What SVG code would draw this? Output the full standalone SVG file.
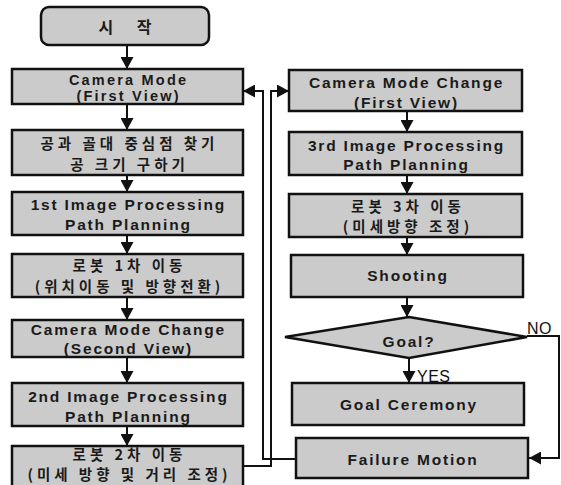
<svg xmlns="http://www.w3.org/2000/svg" width="561" height="485" viewBox="0 0 561 485">
<style>
.box{fill:#cbcbcb;stroke:#111;stroke-width:2.5}
.t{font-family:"Liberation Sans","Noto Sans CJK KR",sans-serif;font-size:15.5px;font-weight:bold;fill:#1a1a1a;text-anchor:middle;letter-spacing:1.8px}
.s{font-size:14.5px;letter-spacing:2.2px}
.k{font-family:"Noto Sans CJK KR","Liberation Sans",sans-serif;font-size:14.5px;fill:#1a1a1a;text-anchor:middle;letter-spacing:4px;font-weight:bold}
.lbl{font-family:"Liberation Sans",sans-serif;font-size:16px;fill:#111;letter-spacing:0.5px}
.c{fill:none;stroke:#111;stroke-width:2}
</style>
<defs>
<marker id="ah" markerUnits="userSpaceOnUse" markerWidth="13" markerHeight="13" refX="12" refY="6.5" orient="auto">
<path d="M0,0 L12,6.5 L0,13 z" fill="#111"/>
</marker>
</defs>
<rect width="561" height="485" fill="#fff"/>

<g id="connectors">
<line class="c" x1="127" y1="45" x2="127" y2="69" marker-end="url(#ah)"/>
<line class="c" x1="127" y1="104" x2="127" y2="130" marker-end="url(#ah)"/>
<line class="c" x1="127" y1="175" x2="127" y2="192" marker-end="url(#ah)"/>
<line class="c" x1="127" y1="235" x2="127" y2="254" marker-end="url(#ah)"/>
<line class="c" x1="127" y1="297" x2="127" y2="320" marker-end="url(#ah)"/>
<line class="c" x1="127" y1="357" x2="127" y2="383" marker-end="url(#ah)"/>
<line class="c" x1="127" y1="426" x2="127" y2="446" marker-end="url(#ah)"/>
<line class="c" x1="407" y1="111" x2="407" y2="132" marker-end="url(#ah)"/>
<line class="c" x1="407" y1="175" x2="407" y2="194" marker-end="url(#ah)"/>
<line class="c" x1="407" y1="237" x2="407" y2="255" marker-end="url(#ah)"/>
<line class="c" x1="407" y1="297" x2="407" y2="317" marker-end="url(#ah)"/>
<line class="c" x1="409" y1="358" x2="409" y2="383" marker-end="url(#ah)"/>
<path class="c" d="M527,336 H559 V458 H529" marker-end="url(#ah)"/>
<path class="c" d="M296,459 H263 V91 H243" marker-end="url(#ah)"/>
<path class="c" d="M243,466 H271 V91 H289" marker-end="url(#ah)"/>
</g>

<g id="start">
<rect class="box" x="41" y="7" width="168" height="38" rx="8"/>
<text class="k" x="130" y="33" style="letter-spacing:10px;font-size:16px">시 작</text>
</g>
<g id="camera-mode">
<rect class="box" x="12" y="69" width="231" height="35"/>
<text class="t s" x="128.6" y="85">Camera Mode</text>
<text class="t s" x="128.6" y="100.5">(First View)</text>
</g>
<g id="find-center">
<rect class="box" x="12" y="130" width="231" height="45"/>
<text class="k" x="129.5" y="149">공과 골대 중심점 찾기</text>
<text class="k" x="129.5" y="170">공 크기 구하기</text>
</g>
<g id="ip1">
<rect class="box" x="12" y="192" width="231" height="43"/>
<text class="t" x="128.4" y="210">1st Image Processing</text>
<text class="t" x="128.4" y="230">Path Planning</text>
</g>
<g id="move1">
<rect class="box" x="12" y="254" width="231" height="43"/>
<text class="k" x="129.5" y="271">로봇 1차 이동</text>
<text class="k" x="129.5" y="292">(위치이동 및 방향전환)</text>
</g>
<g id="cmc2">
<rect class="box" x="12" y="320" width="231" height="37"/>
<text class="t" x="128.4" y="335">Camera Mode Change</text>
<text class="t" x="128.4" y="354">(Second View)</text>
</g>
<g id="ip2">
<rect class="box" x="12" y="383" width="231" height="43"/>
<text class="t" x="128.4" y="402">2nd Image Processing</text>
<text class="t" x="128.4" y="422">Path Planning</text>
</g>
<g id="move2">
<rect class="box" x="12" y="446" width="231" height="45"/>
<text class="k" x="129.5" y="460">로봇 2차 이동</text>
<text class="k" x="129.5" y="480">(미세 방향 및 거리 조정)</text>
</g>

<g id="cmc1">
<rect class="box" x="289" y="70" width="233" height="41"/>
<text class="t" x="406.5" y="88">Camera Mode Change</text>
<text class="t" x="406.5" y="108">(First View)</text>
</g>
<g id="ip3">
<rect class="box" x="289" y="132" width="233" height="43"/>
<text class="t" x="406.5" y="151">3rd Image Processing</text>
<text class="t" x="406.5" y="170">Path Planning</text>
</g>
<g id="move3">
<rect class="box" x="289" y="194" width="233" height="43"/>
<text class="k" x="408" y="212">로봇 3차 이동</text>
<text class="k" x="408" y="232">(미세방향 조정)</text>
</g>
<g id="shooting">
<rect class="box" x="291" y="255" width="232" height="42"/>
<text class="t" x="408" y="281">Shooting</text>
</g>
<g id="goal">
<polygon class="box" points="409,317 527,337 409,358 285,337"/>
<text class="t" x="409" y="347">Goal?</text>
</g>
<g id="goal-ceremony">
<rect class="box" x="292" y="383" width="232" height="42"/>
<text class="t" x="409" y="410">Goal Ceremony</text>
</g>
<g id="failure-motion">
<rect class="box" x="296" y="438" width="232" height="40"/>
<text class="t" x="413" y="465">Failure Motion</text>
</g>
<text class="lbl" x="417" y="382">YES</text>
<text class="lbl" x="527" y="334">NO</text>
</svg>
